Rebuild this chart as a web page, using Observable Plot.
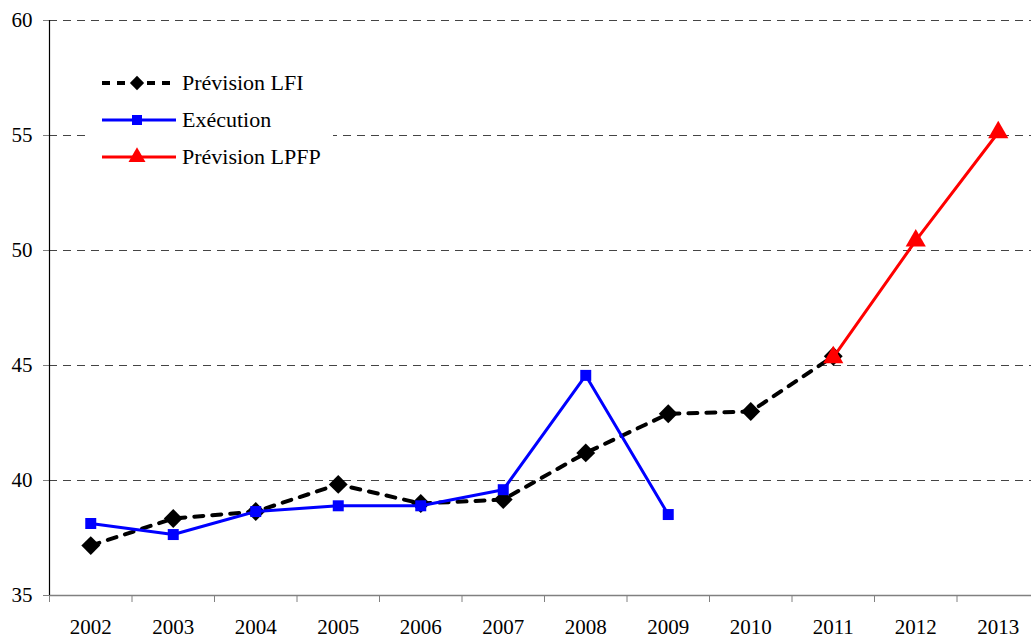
<!DOCTYPE html>
<html><head><meta charset="utf-8">
<script src="https://cdn.jsdelivr.net/npm/d3@7"></script>
<script src="https://cdn.jsdelivr.net/npm/@observablehq/plot@0.6"></script>
<style>
body{margin:0;overflow:hidden;background:#fff}
#wrap{position:relative;width:1031px;height:638px;font-family:"Liberation Serif","Times New Roman",Times,Tinos,"Nimbus Roman","Nimbus Roman No9 L","Noto Serif","DejaVu Serif",FreeSerif,serif}
#wrap svg text{font-family:"Liberation Serif","Times New Roman",Times,Tinos,"Nimbus Roman","Nimbus Roman No9 L","Noto Serif","DejaVu Serif",FreeSerif,serif}
#legend{position:absolute;left:0;top:0}
</style>
</head><body><div id="wrap"></div>
<script>
// ---- data ----
const years = [2002,2003,2004,2005,2006,2007,2008,2009,2010,2011,2012,2013];
const lfiYears = [2002,2003,2004,2005,2006,2007,2008,2009,2010,2011];
const lfiValues = [37.17,38.35,38.65,39.83,39.0,39.17,41.2,42.9,43.0,45.4];
const execYears = [2002,2003,2004,2005,2006,2007,2008,2009];
const execValues = [38.13,37.65,38.65,38.9,38.9,39.6,44.57,38.52];
const lpfpYears = [2011,2012,2013];
const lpfpValues = [45.35,50.43,55.13];
const yTicks = [35,40,45,50,55,60];
const gridTicks = [40,45,50,55,60];
const bandEdges = [2001.5,2002.5,2003.5,2004.5,2005.5,2006.5,2007.5,2008.5,2009.5,2010.5,2011.5,2012.5,2013.5];
const legendLabels = ["Prévision LFI","Exécution","Prévision LPFP"];

const lfiData = lfiYears.map((year,i)=>({year, value: lfiValues[i]}));
const execData = execYears.map((year,i)=>({year, value: execValues[i]}));
const lpfpData = lpfpYears.map((year,i)=>({year, value: lpfpValues[i]}));

const chart = Plot.plot({
  width: 1031, height: 638,
  marginLeft: 49, marginRight: 0, marginTop: 20, marginBottom: 43,
  x: {type: "linear", domain: [2001.5, 2013.5], range: [49, 1039]},
  y: {domain: [35, 60], range: [595, 20]},
  style: {fontSize: "21px", color: "#000", background: "#fff", overflow: "hidden"},
  marks: [
    Plot.gridY(gridTicks, {stroke: "#444", strokeOpacity: 1, strokeDasharray: "8,6", strokeWidth: 1}),
    Plot.ruleY([35], {stroke: "#808080", strokeWidth: 1.5}),
    Plot.axisX(bandEdges, {tickSize: 7, tickFormat: () => "", stroke: "#808080", label: null}),
    Plot.axisX(years, {tickSize: 0, tickPadding: 24, tickFormat: d => String(d), fontSize: 21, fill: "#000", label: null}),
    Plot.axisY(yTicks, {tickSize: 6, tickPadding: 11, stroke: "#808080", fill: "#000", fontSize: 21, label: null}),
    Plot.ruleX([2001.5], {y1: 35, y2: 60, stroke: "#000", strokeWidth: 1.2}),
    Plot.line(lfiData, {x: "year", y: "value", stroke: "#000", strokeWidth: 4, strokeDasharray: "9,9"}),
    Plot.dot(lfiData, {x: "year", y: "value", symbol: "diamond2", r: 8.5, fill: "#000", stroke: "none"}),
    Plot.line(execData, {x: "year", y: "value", stroke: "#0000ff", strokeWidth: 3}),
    Plot.dot(execData, {x: "year", y: "value", symbol: "square", r: 6.2, fill: "#0000ff", stroke: "none"}),
    Plot.line(lpfpData, {x: "year", y: "value", stroke: "#ff0000", strokeWidth: 3}),
    Plot.dot(lpfpData, {x: "year", y: "value", symbol: "triangle", r: 7.5, fill: "#ff0000", stroke: "none"})
  ]
});
document.getElementById("wrap").appendChild(chart);

// ---- legend overlay ----
const lg = d3.select("#wrap").append("svg").attr("id","legend")
  .attr("width", 1031).attr("height", 638);
lg.append("rect").attr("x", 88).attr("y", 60).attr("width", 245).attr("height", 115).attr("fill", "#fff");
const styles = [
  {stroke: "#000", dash: "8,7", width: 4, sym: d3.symbolDiamond2, size: 130, fill: "#000"},
  {stroke: "#0000ff", dash: null, width: 3, sym: d3.symbolSquare, size: 100, fill: "#0000ff"},
  {stroke: "#ff0000", dash: null, width: 3, sym: d3.symbolTriangle, size: 125, fill: "#ff0000"}
];
const rowY = [83, 120, 157];
legendLabels.forEach((label, i) => {
  const s = styles[i], y = rowY[i];
  const g = lg.append("g");
  const ln = g.append("line").attr("x1", 102).attr("x2", 176).attr("y1", y).attr("y2", y)
    .attr("stroke", s.stroke).attr("stroke-width", s.width);
  if (s.dash) ln.attr("stroke-dasharray", s.dash);
  g.append("path").attr("d", d3.symbol(s.sym, s.size)()).attr("transform", `translate(137,${y})`).attr("fill", s.fill);
  g.append("text").attr("x", 182).attr("y", y + 7).attr("font-size", 22)
    .attr("fill", "#000").text(label);
});
</script>
</body></html>
